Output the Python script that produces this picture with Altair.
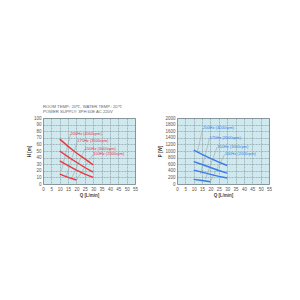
import altair as alt
import pandas as pd

# ---- data ----
q_full = [10, 15, 20, 25, 30]
q_low = [10, 15, 20]
series = ["200Hz (4000rpm)", "175Hz (3500rpm)", "150Hz (3000rpm)", "100Hz (2000rpm)"]

h_200 = [68, 57, 47, 38, 29]
h_175 = [50, 41, 33, 25, 18]
h_150 = [35, 28, 21, 15, 10]
h_100 = [15, 10, 6]

p_200 = [1030, 900, 780, 660, 560]
p_175 = [680, 590, 500, 410, 330]
p_150 = [420, 360, 290, 230, 180]
p_100 = [140, 105, 70]

# label anchor (Q, value) for each series
h_label_q = [16.5, 20.5, 25, 30]
h_label_v = [76, 65, 53, 45]
p_label_q = [15.5, 19.5, 24, 28.5]
p_label_v = [1700, 1400, 1120, 900]

# leader line ends (Q, value)
h_lead_q = [11, 14, 17, 20]
h_lead_v = [20, 12, 8, 6]
p_lead_q = [12, 14, 17, 20]
p_lead_v = [950, 300, 150, 80]

x_ticks = list(range(0, 56, 5))
h_ticks = list(range(0, 101, 10))
p_ticks = list(range(0, 2001, 200))

title_lines = ["ROOM TEMP.: 20\u2103, WATER TEMP.: 20\u2103", "POWER SUPPLY: 3PH 60E  AC 220V"]


def curves(vals_list):
    rows = []
    for name, vals in zip(series, vals_list):
        qs = q_low if len(vals) == 3 else q_full
        for q, v in zip(qs, vals):
            rows.append({"series": name, "Q": q, "V": v})
    return pd.DataFrame(rows)


def labels(lq, lv):
    return pd.DataFrame({"series": series, "Q": lq, "V": lv})


def leaders(lq, lv, eq, ev):
    rows = []
    for name, a, b, c, d in zip(series, lq, lv, eq, ev):
        rows.append({"series": name, "Q": a, "V": b, "Q2": c, "V2": d})
    return pd.DataFrame(rows)


FONT = "Liberation Sans"
W, H = 92, 66


def panel(vals_list, lq, lv, eq, ev, ymax, yticks, ytitle, color, title=None):
    xs = alt.Scale(domain=[0, 55], nice=False)
    ys = alt.Scale(domain=[0, ymax], nice=False)
    xax = alt.Axis(values=x_ticks, title="Q [L/min]", format="d")
    yax = alt.Axis(values=yticks, title=ytitle, format="d")
    X = alt.X("Q:Q", scale=xs, axis=xax)
    Y = alt.Y("V:Q", scale=ys, axis=yax)

    line = alt.Chart(curves(vals_list)).mark_line(color=color, strokeWidth=1.4).encode(
        x=X, y=Y, detail="series:N",
    )
    lead = alt.Chart(leaders(lq, lv, eq, ev)).mark_rule(color="#a0a8aa", strokeWidth=0.6).encode(
        x=X, y=Y, x2="Q2:Q", y2="V2:Q"
    )
    txt = alt.Chart(labels(lq, lv)).mark_text(
        align="left", baseline="middle", fontSize=4, color=color, font=FONT
    ).encode(x=X, y=Y, text="series:N")
    ch = alt.layer(lead, line, txt).properties(width=W, height=H)
    if title is not None:
        ch = ch.properties(
            title=alt.Title(title, anchor="start", frame="group", fontSize=4.2,
                            fontWeight="normal", color="#666666", font=FONT, offset=1,
                            lineHeight=5)
        )
    return ch


left = panel([h_200, h_175, h_150, h_100], h_label_q, h_label_v, h_lead_q, h_lead_v,
             100, h_ticks, "H [m]", "#e8383d", title_lines)
right = panel([p_200, p_175, p_150, p_100], p_label_q, p_label_v, p_lead_q, p_lead_v,
              2000, p_ticks, "P [W]", "#3a7be8")

chart = alt.hconcat(left, right, spacing=18).properties(
    padding={"left": 25, "top": 104, "right": 5, "bottom": 5}
).configure_view(
    fill="#cfe9ee", stroke="#8a9a9e", strokeWidth=1
).configure_axis(
    labelFontSize=4.5, labelColor="#555555", labelFont=FONT, labelPadding=2,
    labelOverlap=False, labelFlush=False, labelBound=False,
    titleFontSize=4.5, titleColor="#444444", titleFont=FONT, titleFontWeight="bold",
    titlePadding=2, ticks=False, domain=False,
    gridColor="#7f9499", gridDash=[2, 1], gridWidth=0.6,
)

chart.save("out.html", embed_options={"renderer": "svg", "actions": False})
